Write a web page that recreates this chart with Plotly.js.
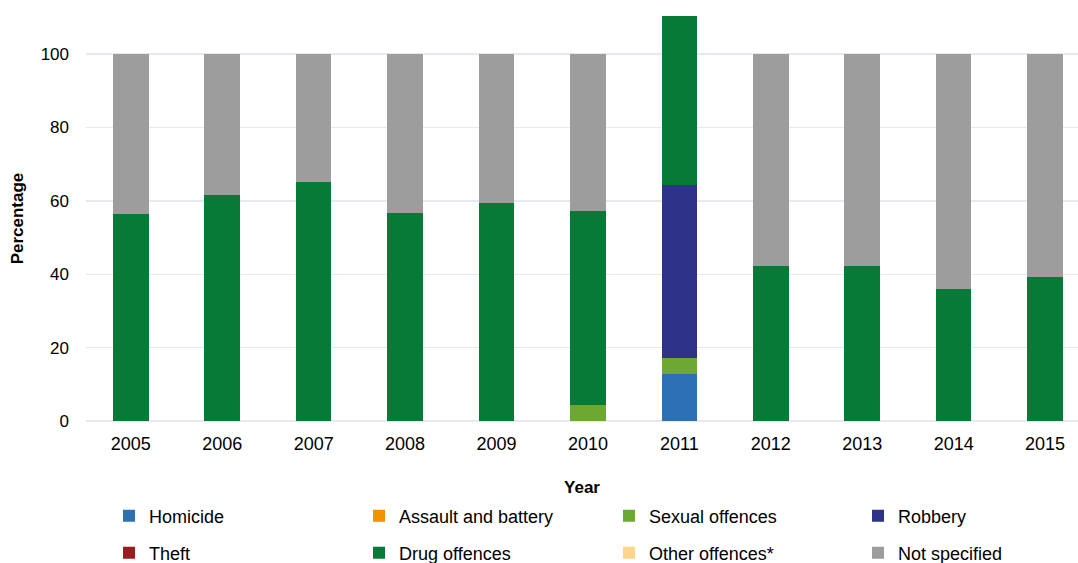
<!DOCTYPE html>
<html>
<head>
<meta charset="utf-8">
<script src="https://cdn.plot.ly/plotly-3.0.1.min.js"></script>
<style>html,body{margin:0;padding:0;background:#fff;}#chart{width:1078px;height:563px;}</style>
</head>
<body>
<div id="chart"></div>
<script>
const years = ["2005","2006","2007","2008","2009","2010","2011","2012","2013","2014","2015"];
const homicide = [0,0,0,0,0,0,12.7,0,0,0,0];
const assault = [0,0,0,0,0,0,0,0,0,0,0];
const sexual = [0,0,0,0,0,4.3,4.5,0,0,0,0];
const robbery = [0,0,0,0,0,0,47.0,0,0,0,0];
const theft = [0,0,0,0,0,0,0,0,0,0,0];
const drug = [56.4,61.6,65.1,56.7,59.5,53.0,50.0,42.2,42.2,35.9,39.3];
const other = [0,0,0,0,0,0,0,0,0,0,0];
const notSpecified = [43.6,38.4,34.9,43.3,40.5,42.7,0,57.8,57.8,64.1,60.7];
const yTicks = [0,20,40,60,80,100];

const series = [
  {name:"Homicide", y:homicide, color:"#2E70B5"},
  {name:"Assault and battery", y:assault, color:"#F39200"},
  {name:"Sexual offences", y:sexual, color:"#6DA832"},
  {name:"Robbery", y:robbery, color:"#2E3389"},
  {name:"Theft", y:theft, color:"#9B1B1F"},
  {name:"Drug offences", y:drug, color:"#067A36"},
  {name:"Other offences*", y:other, color:"#FDD68A"},
  {name:"Not specified", y:notSpecified, color:"#9D9D9D"}
];

const font = "'Liberation Sans', Arial, sans-serif";
const legendIds = ["legend","legend2","legend3","legend4","legend5","legend6","legend7","legend8"];

const data = series.map((s, i) => ({
  type:"bar", name:s.name, x:years, y:s.y, legend:legendIds[i],
  marker:{color:s.color, line:{width:0}},
  hoverinfo:"x+y+name"
}));

const colX = [109, 359, 609, 858];
const rowY = [516, 553];

const layout = {
  width:1078, height:563,
  margin:{l:86, r:0, t:16, b:142},
  paper_bgcolor:"#fff", plot_bgcolor:"#fff",
  barmode:"stack", bargap:0.61,
  showlegend:true,
  font:{family:font, color:"#000"},
  xaxis:{
    type:"category", range:[-0.49,10.36],
    tickfont:{family:font, size:18, color:"#000"},
    ticks:"", showgrid:false, showline:false, zeroline:false,
    ticklabelstandoff:10,
    title:{text:"<b>Year</b>", font:{family:font, size:17, color:"#000"}, standoff:42}
  },
  yaxis:{
    range:[0,110.4], tickvals:yTicks, ticktext:yTicks.map(String),
    tickfont:{family:font, size:17, color:"#000"},
    showgrid:true, gridcolor:"#E6E9EF", gridwidth:1.5,
    zeroline:true, zerolinecolor:"#E6E9EF", zerolinewidth:1.5,
    showline:false, ticks:"", ticklabelstandoff:16,
    title:{text:"<b>Percentage</b>", font:{family:font, size:17, color:"#000"}, standoff:12}
  }
};

legendIds.forEach((id, i) => {
  layout[id] = {
    orientation:"h", xanchor:"left", yanchor:"middle",
    xref:"container", yref:"container",
    x: colX[i % 4] / 1078, y: 1 - rowY[Math.floor(i / 4)] / 563,
    font:{family:font, size:18, color:"#000"},
    itemwidth:30, bgcolor:"rgba(0,0,0,0)"
  };
});

Plotly.newPlot("chart", data, layout, {displayModeBar:false, staticPlot:true});
</script>
</body>
</html>
